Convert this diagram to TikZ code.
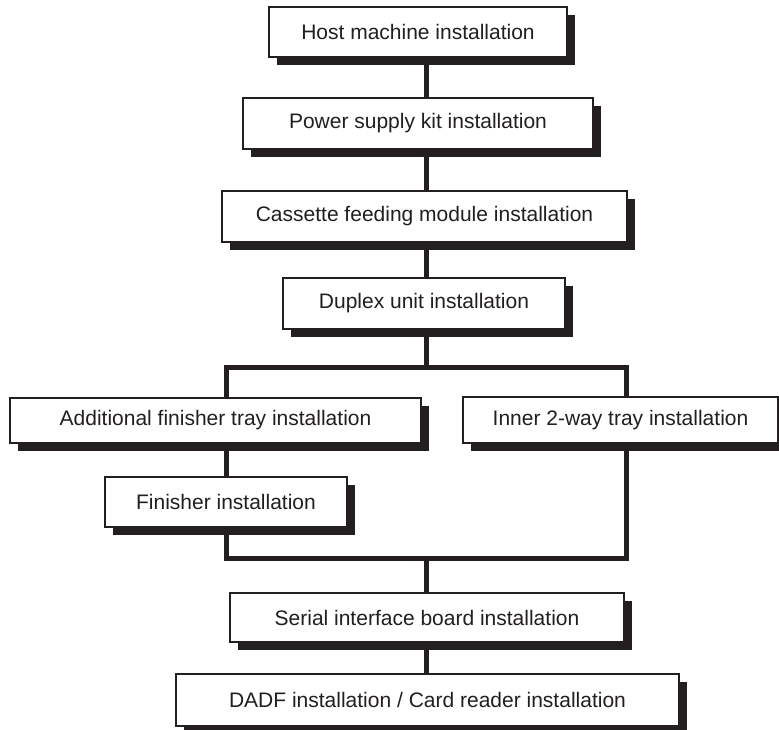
\documentclass[tikz,border=0pt]{standalone}
\usepackage{fontspec}
\setmainfont{Liberation Sans}
\usetikzlibrary{shadows}
\definecolor{ink}{HTML}{231F20}
\tikzset{
  boxnode/.style={draw=ink, line width=2pt, fill=white, rectangle, inner sep=0pt,
    font=\fontsize{21}{25}\selectfont, text=ink,
    drop shadow={shadow xshift=8pt, shadow yshift=-8pt, fill=ink, opacity=1}},
  conn/.style={draw=ink, line width=5pt, line join=miter, line cap=rect}
}
\begin{document}
\begin{tikzpicture}[x=1pt,y=-1pt]
\useasboundingbox (0,0) rectangle (779,729);
\coordinate (spine) at (426,0);
\coordinate (lb) at (226,0);
\coordinate (rb) at (626,0);
\coordinate (splitc) at (0,367);
\coordinate (mergec) at (0,558);

\node[boxnode, minimum width=298pt, minimum height=50pt] (host) at (418,32) {Host machine installation};
\node[boxnode, minimum width=350pt, minimum height=51pt] (power) at (418,123.5) {Power supply kit installation};
\node[boxnode, minimum width=405pt, minimum height=51pt] (cassette) at (424.5,216.5) {Cassette feeding module installation};
\node[boxnode, minimum width=282pt, minimum height=51pt] (duplex) at (424,303.5) {Duplex unit installation};
\node[boxnode, minimum width=411pt, minimum height=45pt] (add) at (215.5,420) {Additional finisher tray installation};
\node[boxnode, minimum width=315pt, minimum height=46pt] (inner) at (620.5,420) {Inner 2-way tray installation};
\node[boxnode, minimum width=242pt, minimum height=50pt] (fin) at (226,502) {Finisher installation};
\node[boxnode, minimum width=394pt, minimum height=49pt] (serial) at (427,617.5) {Serial interface board installation};
\node[boxnode, minimum width=503pt, minimum height=52pt] (dadf) at (427.5,700) {DADF installation / Card reader installation};

\begin{scope}[on background layer/.style={}]
\end{scope}

\draw[conn, line cap=butt] (host.south -| spine) -- (power.north -| spine);
\draw[conn, line cap=butt] (power.south -| spine) -- (cassette.north -| spine);
\draw[conn, line cap=butt] (cassette.south -| spine) -- (duplex.north -| spine);
\draw[conn, line cap=butt] (duplex.south -| spine) -- (spine |- splitc);
\draw[conn, line cap=butt] (add.north -| lb) -- (lb |- splitc) -- (rb |- splitc) -- (inner.north -| rb);
\draw[conn, line cap=butt] (add.south -| lb) -- (fin.north -| lb);
\draw[conn, line cap=butt] (fin.south -| lb) -- (lb |- mergec) -- (rb |- mergec) -- (inner.south -| rb);
\draw[conn, line cap=butt] (spine |- mergec) -- (serial.north -| spine);
\draw[conn, line cap=butt] (serial.south -| spine) -- (dadf.north -| spine);
\end{tikzpicture}
\end{document}
